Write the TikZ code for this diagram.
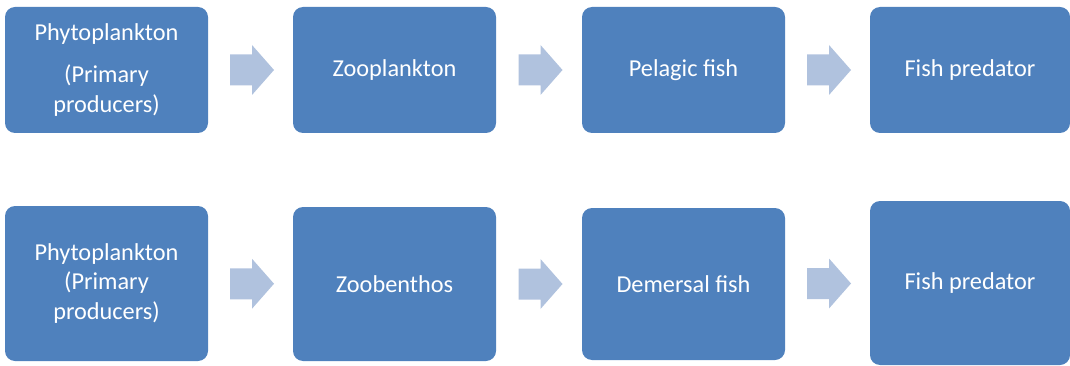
\documentclass[tikz,border=0pt]{standalone}
\usepackage{fontspec}
\setmainfont{Carlito}
\usepackage{tikz}
\usetikzlibrary{arrows,positioning}
\usetikzlibrary{calc}
\definecolor{boxblue}{HTML}{4F81BD}
\definecolor{flowblue}{HTML}{B0C2DE}
\tikzstyle{chain}=[x=1pt,y=-1pt]
\tikzstyle{trophic}=[rectangle, rounded corners=10pt, fill=boxblue,
text=white, align=center, inner sep=0pt, minimum width=203pt,
font=\fontsize{24.3}{29.5}\selectfont]
\tikzstyle{flow}=[fill=flowblue]
% block arrow centred on a named coordinate
\newcommand{\flowarrow}[1]{\fill[flow] ($(#1)+(-22,-15.5)$) -- ++(22,0) -- ++(0,-9.5)
  -- ++(22,25) -- ++(-22,25) -- ++(0,-9.5) -- ++(-22,0) -- cycle;}

\begin{document}
\begin{tikzpicture}[chain]
\useasboundingbox (0,0) rectangle (1070,366);
% pelagic chain
\node[trophic,minimum height=126pt] (p1) at (106.5,70) {Phytoplankton\\[12.5pt](Primary\\producers)};
\node[trophic,minimum height=126pt] (p2) at (394.5,70) {Zooplankton};
\node[trophic,minimum height=126pt] (p3) at (683.5,70) {Pelagic fish};
\node[trophic,minimum height=126pt,minimum width=200pt] (p4) at (970,70) {Fish predator};
% demersal chain
\node[trophic,minimum height=155pt] (d1) at (106.5,283.5) {Phytoplankton\\(Primary\\producers)};
\node[trophic,minimum height=154pt] (d2) at (394.5,284) {Zoobenthos};
\node[trophic,minimum height=152pt] (d3) at (683.5,284) {Demersal fish};
\node[trophic,minimum height=164pt,minimum width=200pt] (d4) at (970,283) {Fish predator};
% arrows
\coordinate (pa1) at ($(p1.east)!0.5!(p2.west)+(1.5,0)$);
\coordinate (pa2) at ($(p2.east)!0.5!(p3.west)+(1.5,0)$);
\coordinate (pa3) at ($(p3.east)!0.5!(p4.west)+(1.5,0)$);
\coordinate (da1) at ($(d1.east)!0.5!(d2.west)+(1.5,0)$);
\coordinate (da2) at ($(d2.east)!0.5!(d3.west)+(1.5,0)$);
\coordinate (da3) at ($(d3.east)!0.5!(d4.west)+(1.5,0)$);
\flowarrow{pa1}\flowarrow{pa2}\flowarrow{pa3}
\flowarrow{da1}\flowarrow{da2}\flowarrow{da3}
\end{tikzpicture}
\end{document}
